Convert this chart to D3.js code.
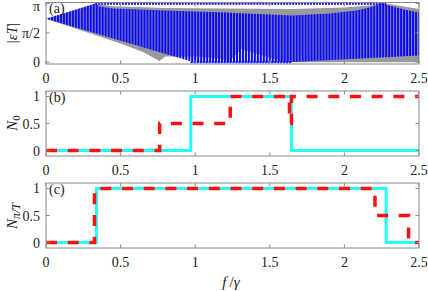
<!DOCTYPE html>
<html><head><meta charset="utf-8">
<script src="https://cdn.jsdelivr.net/npm/d3@7"></script>
<style>body{margin:0;background:#fff}svg{display:block}text{font-family:'Liberation Serif','DejaVu Serif',serif}</style>
</head><body>
<script>
// ---------- data ----------
const xTicks = [0, 0.5, 1, 1.5, 2, 2.5];
const xTickLabels = ["0", "0.5", "1", "1.5", "2", "2.5"];
const aYTicks = [0, Math.PI / 2, Math.PI];
const aYTickLabels = ["0", "π/2", "π"];
const nYTicks = [0, 0.5, 1];
const nYTickLabels = ["0", "0.5", "1"];
const fStep = 0.02; // spacing of the sampled f values in panel (a)

// panel (a): bulk band (blue stripes)
const blueUpperF = [0, 0.33, 0.36, 0.45, 0.8, 1.2, 1.5, 1.65, 1.9, 2.08, 2.17, 2.25, 2.3, 2.4, 2.5];
const blueUpperV = [2.33, 3.14, 2.98, 2.88, 2.77, 2.66, 2.55, 2.50, 2.61, 2.77, 2.93, 3.14, 3.04, 2.82, 2.66];
const blueLowerF = [0, 0.99, 1.63, 2.5];
const blueLowerV = [2.33, 0, 0, 0.36];
// panel (a): second spectrum (gray)
const grayUpperF = [0, 0.33, 0.45, 0.8, 1.2, 1.65, 2.0, 2.15, 2.25, 2.3, 2.4, 2.5];
const grayUpperV = [2.33, 3.12, 3.0, 2.9, 2.88, 2.85, 2.93, 3.03, 3.14, 3.12, 2.98, 2.85];
const grayLowerF = [0, 0.5, 0.65, 0.76, 0.8, 1.0, 1.15, 1.23, 1.31, 1.45, 1.6, 2.5];
const grayLowerV = [2.33, 1.0, 0.55, 0.06, 0.3, 0.3, 0.2, 0.05, 0.7, 0.35, 0, 0];
// edge modes at 0 and pi
const zeroModeF = [0.97, 1.645];
const piModeF = [0.33, 2.28];

// panel (b): N_0
const n0CyanF = [0, 0.97, 1.645, 2.5];
const n0CyanV = [0, 1, 0, 0];
const n0RedF = [0, 0.762, 1.235, 1.632, 1.645, 2.5];
const n0RedV = [0, 0.5, 1, 0.5, 1, 1];
// panel (c): N_pi/T
const npCyanF = [0, 0.338, 2.28, 2.5];
const npCyanV = [0, 1, 0, 0];
const npRedF = [0, 0.325, 2.205, 2.43, 2.5];
const npRedV = [0, 1, 0.5, 0, 0];

// ---------- layout ----------
const W = 428, H = 291;
const xL = 46, xR = 419;
const axisColor = "#8a8a8a", textColor = "#222";
const svg = d3.select("body").append("svg").attr("width", W).attr("height", H);

const x = d3.scaleLinear().domain([0, 2.5]).range([xL, xR]);
const panels = [
  {top: 2.5, bottom: 64, dom: [-0.1, 3.2], yt: aYTicks, ytl: aYTickLabels, lab: "(a)"},
  {top: 91, bottom: 156, dom: [-0.1, 1.1], yt: nYTicks, ytl: nYTickLabels, lab: "(b)"},
  {top: 183, bottom: 248, dom: [-0.1, 1.1], yt: nYTicks, ytl: nYTickLabels, lab: "(c)"}
];
panels.forEach(p => p.y = d3.scaleLinear().domain(p.dom).range([p.bottom, p.top]));

const defs = svg.append("defs");
panels.forEach((p, i) => {
  defs.append("clipPath").attr("id", "clip" + i).append("rect")
    .attr("x", xL).attr("y", p.top).attr("width", xR - xL).attr("height", p.bottom - p.top);
});
const period = x(fStep) - x(0);
const pat = defs.append("pattern").attr("id", "stripes").attr("patternUnits", "userSpaceOnUse")
  .attr("x", x(0) - 1).attr("y", 0).attr("width", period).attr("height", H);
pat.append("rect").attr("x", 0).attr("y", 0).attr("width", 2.1).attr("height", H).attr("fill", "#0a0aff");

function bandPath(y, uF, uV, lF, lV) {
  const pts = uF.map((f, i) => [x(f), y(uV[i])]);
  for (let i = lF.length - 1; i >= 0; i--) pts.push([x(lF[i]), y(lV[i])]);
  return d3.line()(pts) + "Z";
}

// ----- panel (a) -----
const pa = panels[0];
const ga = svg.append("g").attr("clip-path", "url(#clip0)");
ga.append("path").attr("d", bandPath(pa.y, grayUpperF, grayUpperV, grayLowerF, grayLowerV))
  .attr("fill", "#9a9a9a");
ga.append("path").attr("d", bandPath(pa.y, blueUpperF, blueUpperV, blueLowerF, blueLowerV))
  .attr("fill", "url(#stripes)");
[[piModeF, Math.PI], [zeroModeF, 0]].forEach(([fs, v]) => {
  ga.append("line").attr("x1", x(fs[0])).attr("x2", x(fs[1]))
    .attr("y1", pa.y(v)).attr("y2", pa.y(v))
    .attr("stroke", "#0a0aff").attr("stroke-width", 2.4)
    .attr("stroke-dasharray", `2,${period - 2}`);
});

// ----- step lines (b), (c) -----
function stepLine(g, y, fs, vs, color, width, dash) {
  const pts = fs.map((f, i) => [x(f), y(vs[i])]);
  const path = g.append("path").attr("d", d3.line().curve(d3.curveStepAfter)(pts))
    .attr("fill", "none").attr("stroke", color).attr("stroke-width", width)
    .attr("stroke-linejoin", "miter");
  if (dash) path.attr("stroke-dasharray", dash);
}
const gb = svg.append("g").attr("clip-path", "url(#clip1)");
stepLine(gb, panels[1].y, n0CyanF, n0CyanV, "#22ffff", 3, null);
stepLine(gb, panels[1].y, n0RedF, n0RedV, "#ff1010", 3.5, "11,10.7");
const gc = svg.append("g").attr("clip-path", "url(#clip2)");
stepLine(gc, panels[2].y, npCyanF, npCyanV, "#22ffff", 3, null);
stepLine(gc, panels[2].y, npRedF, npRedV, "#ff1010", 3.5, "11,10.7");

// ----- axes -----
const tl = 3.5;
panels.forEach(p => {
  const g = svg.append("g");
  g.append("rect").attr("x", xL).attr("y", p.top).attr("width", xR - xL).attr("height", p.bottom - p.top)
    .attr("fill", "none").attr("stroke", axisColor).attr("stroke-width", 1);
  xTicks.forEach((t, i) => {
    const xx = x(t);
    g.append("line").attr("x1", xx).attr("x2", xx).attr("y1", p.bottom).attr("y2", p.bottom - tl).attr("stroke", axisColor);
    g.append("line").attr("x1", xx).attr("x2", xx).attr("y1", p.top).attr("y2", p.top + tl).attr("stroke", axisColor);
    g.append("text").attr("x", xx).attr("y", p.bottom + 18.5).attr("text-anchor", "middle")
      .attr("font-size", 14).attr("fill", textColor).text(xTickLabels[i]);
  });
  p.yt.forEach((t, i) => {
    const yy = p.y(t);
    g.append("line").attr("x1", xL).attr("x2", xL + tl).attr("y1", yy).attr("y2", yy).attr("stroke", axisColor);
    g.append("line").attr("x1", xR).attr("x2", xR - tl).attr("y1", yy).attr("y2", yy).attr("stroke", axisColor);
    g.append("text").attr("x", xL - 6).attr("y", Math.max(yy + 5, 11)).attr("text-anchor", "end")
      .attr("font-size", 14).attr("fill", textColor).text(p.ytl[i]);
  });
  g.append("text").attr("x", xL + 3).attr("y", p.top + 10.5)
    .attr("font-size", 14).attr("fill", textColor).text(p.lab);
});

// y labels
function ylab(cy, build) {
  const t = svg.append("text").attr("transform", `translate(17,${cy}) rotate(-90)`)
    .attr("text-anchor", "middle").attr("font-size", 15).attr("fill", textColor);
  build(t);
}
ylab(33, t => {
  t.append("tspan").text("|");
  t.append("tspan").attr("font-style", "italic").text("εT");
  t.append("tspan").text("|");
});
ylab(123, t => {
  t.append("tspan").attr("font-style", "italic").text("N");
  t.append("tspan").attr("font-size", 11).attr("dy", 3).text("0");
});
ylab(216, t => {
  t.append("tspan").attr("font-style", "italic").text("N");
  t.append("tspan").attr("font-size", 12).attr("dy", 3).attr("font-style", "italic").text("π/T");
});
// x label
const xl = svg.append("text").attr("x", 231).attr("y", 287).attr("text-anchor", "middle")
  .attr("font-size", 15).attr("fill", textColor).attr("font-style", "italic");
xl.append("tspan").text("f");
xl.append("tspan").attr("font-style", "normal").text("\u2009/");
xl.append("tspan").text("γ");
</script>
</body></html>
